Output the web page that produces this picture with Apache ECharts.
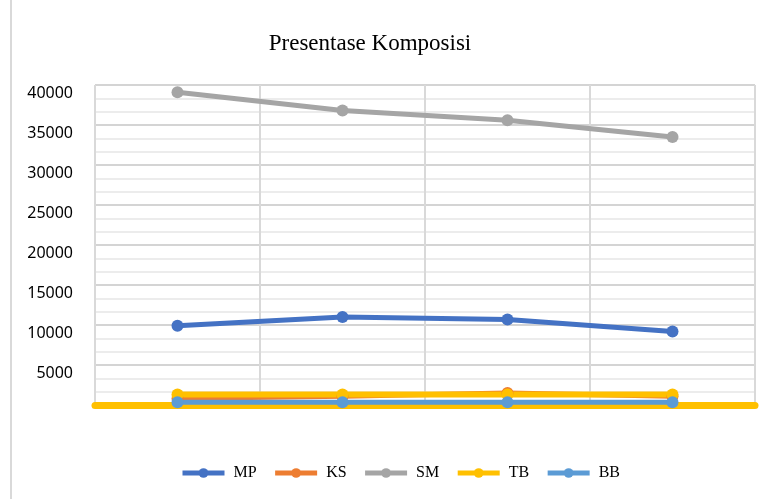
<!DOCTYPE html>
<html>
<head>
<meta charset="utf-8">
<script src="https://cdn.jsdelivr.net/npm/echarts@6/dist/echarts.min.js"></script>
<style>
  html, body { margin: 0; padding: 0; background: #fff; }
  #chart { width: 763px; height: 499px; }
</style>
</head>
<body>
<div id="chart"></div>
<script>
// values
var categories = ['1', '2', '3', '4']
var seriesNames = ['MP', 'KS', 'SM', 'TB', 'BB']
var mpValues = [9900, 11000, 10700, 9200]
var ksValues = [800, 1100, 1500, 1100]
var smValues = [39100, 36800, 35600, 33500]
var tbValues = [1300, 1300, 1300, 1300]
var bbValues = [350, 350, 350, 350]
var colors = ['#4472C4', '#ED7D31', '#A5A5A5', '#FFC000', '#5B9BD5']

var chart = echarts.init(document.getElementById('chart'))

function lineSeries (name, data, color, width) {
  return {
    name: name,
    type: 'line',
    data: data,
    symbol: 'circle',
    symbolSize: 12,
    lineStyle: { width: width || 5, color: color },
    itemStyle: { color: color }
  }
}

chart.setOption({
  animation: false,
  color: colors,
  title: {
    text: 'Presentase Komposisi',
    left: 365,
    textAlign: 'center',
    top: 27,
    textStyle: {
      fontFamily: 'Liberation Serif',
      fontSize: 23,
      fontWeight: 'normal',
      color: '#000'
    }
  },
  legend: {
    bottom: 13,
    left: 175,
    itemWidth: 42,
    itemHeight: 12,
    itemGap: 16,
    lineStyle: { width: 5 },
    textStyle: { fontFamily: 'Liberation Serif', fontSize: 16, color: '#000', padding: [5, 0, 0, 4] },
    data: seriesNames
  },
  grid: {
    left: 95,
    right: 8,
    top: 85,
    bottom: 94,
    show: true,
    borderColor: '#d9d9d9',
    borderWidth: 1
  },
  graphic: [
    {
      type: 'line',
      shape: { x1: 11, y1: 0, x2: 11, y2: 499 },
      style: { stroke: '#d9d9d9', lineWidth: 2 }
    }
  ],
  xAxis: {
    type: 'category',
    data: categories,
    boundaryGap: true,
    axisLabel: { show: false },
    axisTick: { show: false },
    axisLine: { show: true, lineStyle: { color: '#FFC000', width: 7 } },
    splitLine: { show: true, lineStyle: { color: '#d9d9d9', width: 2 } }
  },
  yAxis: {
    type: 'value',
    min: 0,
    max: 40000,
    interval: 5000,
    axisLine: { show: false },
    axisTick: { show: false },
    axisLabel: {
      margin: 22,
      fontFamily: 'Noto Sans',
      fontSize: 16,
      color: '#000',
      verticalAlign: 'top',
      formatter: function (v) { return v === 0 ? '' : String(v) }
    },
    splitLine: { lineStyle: { color: '#d4d4d4', width: 2 } },
    minorTick: { show: false, splitNumber: 3 },
    minorSplitLine: { show: true, lineStyle: { color: '#ececec', width: 2 } }
  },
  series: [
    lineSeries('MP', mpValues, colors[0]),
    lineSeries('KS', ksValues, colors[1]),
    lineSeries('SM', smValues, colors[2]),
    lineSeries('TB', tbValues, colors[3], 6),
    lineSeries('BB', bbValues, colors[4])
  ]
})
</script>
</body>
</html>
